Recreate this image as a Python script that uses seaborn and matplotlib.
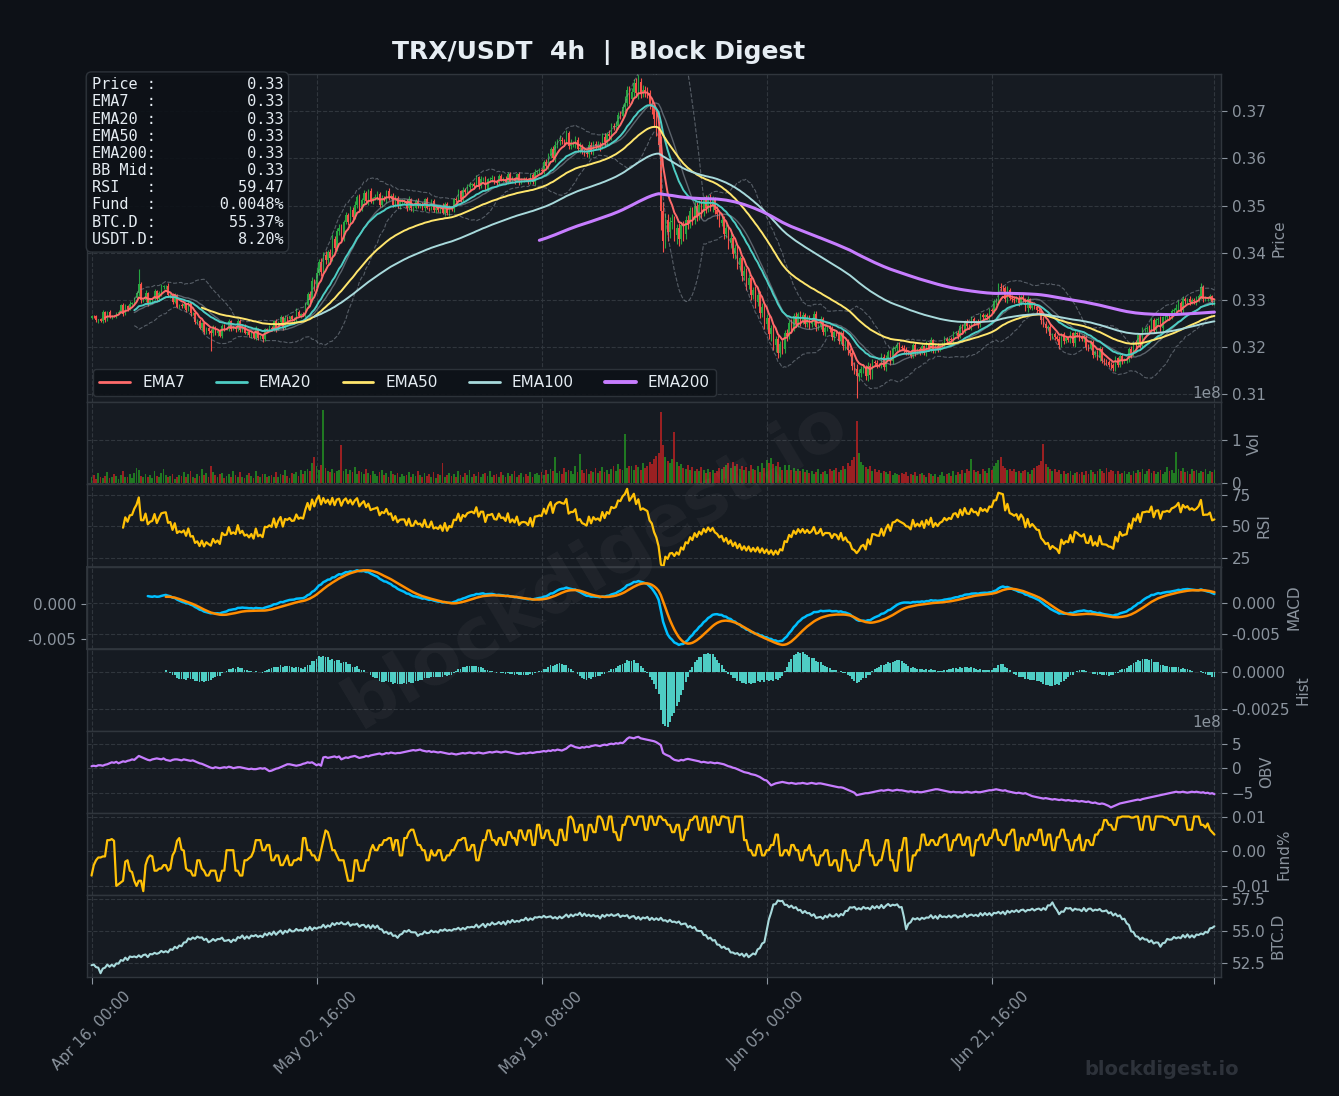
import numpy as np
import pandas as pd
import matplotlib
matplotlib.use("Agg")
import matplotlib.pyplot as plt
from matplotlib.lines import Line2D
from matplotlib.ticker import FormatStrFormatter
import seaborn as sns

# ---------------- data ----------------
OPEN0_E4 = 3262
# close prices in units of 1e-4 USDT, one per 4h bar
CLOSE_E4 = [
    3266,3265,3257,3259,3255,3274,3257,3274,3264,3266,
    3265,3273,3274,3290,3271,3287,3281,3292,3293,3305,
    3314,3334,3299,3299,3315,3294,3300,3302,3319,3301,
    3314,3327,3329,3330,3310,3312,3295,3310,3286,3290,
    3287,3291,3278,3293,3272,3273,3253,3256,3241,3251,
    3232,3240,3234,3229,3241,3230,3234,3224,3245,3239,
    3240,3255,3239,3242,3238,3256,3237,3242,3230,3232,
    3225,3231,3220,3239,3220,3223,3217,3238,3237,3241,
    3238,3256,3238,3253,3263,3242,3262,3260,3265,3259,
    3260,3275,3267,3270,3268,3290,3312,3300,3340,3326,
    3358,3380,3360,3396,3384,3402,3390,3430,3410,3446,
    3452,3432,3466,3480,3466,3490,3476,3502,3518,3494,
    3512,3527,3509,3530,3510,3516,3519,3524,3502,3516,
    3513,3531,3516,3521,3502,3517,3499,3508,3509,3509,
    3494,3514,3494,3495,3509,3500,3502,3494,3513,3495,
    3494,3509,3491,3494,3490,3498,3485,3504,3484,3496,
    3493,3513,3512,3531,3514,3533,3529,3540,3543,3545,
    3542,3560,3542,3557,3557,3536,3556,3556,3559,3549,
    3548,3563,3555,3556,3550,3568,3551,3558,3552,3566,
    3549,3555,3556,3555,3550,3565,3549,3572,3573,3575,
    3574,3592,3584,3605,3619,3600,3628,3636,3639,3637,
    3636,3653,3627,3632,3632,3640,3619,3622,3614,3612,
    3609,3629,3616,3631,3626,3629,3625,3646,3635,3651,
    3648,3668,3666,3669,3691,3690,3708,3718,3745,3725,
    3740,3759,3739,3762,3738,3744,3741,3738,3716,3708,
    3683,3665,3628,3489,3426,3470,3444,3466,3468,3438,
    3452,3430,3458,3440,3470,3462,3488,3470,3500,3478,
    3502,3486,3512,3494,3516,3498,3512,3490,3482,3464,
    3470,3440,3452,3420,3432,3398,3410,3374,3388,3350,
    3362,3332,3346,3310,3322,3296,3310,3272,3286,3250,
    3262,3228,3240,3204,3218,3188,3206,3196,3230,3224,
    3252,3240,3266,3250,3270,3254,3268,3250,3262,3248,
    3254,3270,3242,3245,3259,3232,3240,3240,3239,3221,
    3232,3229,3213,3230,3202,3210,3193,3188,3160,3154,
    3139,3145,3154,3157,3138,3161,3141,3168,3167,3163,
    3162,3180,3158,3177,3189,3170,3196,3198,3205,3201,
    3198,3195,3189,3188,3182,3204,3189,3196,3190,3202,
    3187,3207,3196,3215,3192,3203,3195,3204,3207,3217,
    3212,3218,3216,3229,3231,3224,3244,3234,3255,3245,
    3244,3259,3253,3254,3248,3268,3263,3268,3264,3278,
    3277,3297,3298,3327,3326,3325,3301,3322,3305,3303,
    3300,3304,3294,3307,3301,3282,3302,3284,3291,3285,
    3278,3277,3257,3250,3240,3242,3223,3228,3222,3218,
    3205,3227,3214,3219,3216,3229,3209,3230,3227,3221,
    3218,3222,3200,3199,3211,3184,3190,3178,3197,3171,
    3170,3169,3163,3162,3156,3176,3163,3182,3172,3174,
    3175,3197,3186,3211,3206,3225,3207,3238,3239,3241,
    3240,3258,3236,3257,3259,3240,3264,3264,3267,3265,
    3276,3279,3284,3294,3278,3302,3297,3302,3296,3300,
    3297,3301,3308,3327,3302,3303,3303,3308,3295,3297,
]
# upper / lower wick beyond the candle body, units of 1e-4
WICK_UP_E4 = [
    3,2,4,1,3,5,2,3,4,2,3,1,5,2,3,4,2,6,3,2,
    5,32,4,3,6,2,4,3,5,2,4,7,3,2,5,3,2,4,3,2,
    3,5,2,4,3,2,6,3,4,2,5,3,2,4,6,3,2,4,3,5,
    2,4,3,5,2,3,4,2,6,3,2,4,3,5,2,3,4,2,3,5,
    3,2,4,3,5,2,6,3,2,4,3,8,4,3,5,6,4,7,9,5,
    12,6,10,5,8,4,7,9,5,6,8,10,4,7,5,9,6,8,4,6,
    5,7,4,6,8,3,5,7,4,6,5,3,7,4,5,6,3,5,4,6,
    4,6,3,5,4,7,3,5,4,6,3,5,4,2,6,3,8,4,3,5,
    4,3,6,5,3,7,4,5,6,3,4,5,3,6,4,5,3,4,6,3,
    4,3,5,4,6,3,4,5,3,4,6,3,5,4,3,5,4,6,3,5,
    5,4,6,7,5,8,9,6,10,7,5,8,6,9,5,7,6,12,8,5,
    6,8,5,7,6,9,5,8,7,6,9,7,8,10,7,9,8,15,9,8,
    10,9,12,16,8,11,9,10,8,12,10,15,12,20,18,14,12,10,15,11,
    9,12,8,10,7,11,9,8,10,7,9,11,8,10,7,9,8,6,9,8,
    7,9,8,6,10,7,9,8,6,7,9,6,8,7,5,8,6,9,7,6,
    8,10,7,9,6,8,7,9,6,8,5,7,6,8,5,7,6,5,7,6,
    5,7,6,4,6,5,7,4,6,5,7,4,6,5,7,6,8,5,7,9,
    10,8,6,7,5,8,6,7,5,6,4,7,5,6,4,5,7,4,6,5,
    4,6,5,3,5,4,6,3,5,4,3,5,4,6,3,4,5,3,4,6,
    5,3,4,6,3,5,4,6,3,5,4,8,5,3,6,4,5,3,4,6,
    5,6,7,8,9,6,5,7,4,6,5,4,6,3,5,4,6,3,5,4,
    6,5,7,9,5,4,6,3,5,4,6,3,5,4,3,5,4,6,3,5,
    4,5,3,6,4,5,3,4,6,3,5,4,3,5,4,6,3,4,5,3,
    5,4,6,3,5,4,6,5,3,4,6,5,3,4,5,6,3,5,4,6,
    5,4,8,5,4,6,5,3,6,4,5,7,4,9,5,6,4,5,3,4,
]
WICK_DN_E4 = [
    2,4,3,5,2,3,4,2,3,5,2,4,3,2,5,3,4,2,3,4,
    4,6,5,3,4,6,3,5,2,4,3,5,4,6,3,5,4,2,4,3,
    5,3,4,2,6,3,4,5,3,6,4,5,7,38,5,4,6,3,5,4,
    3,5,4,2,6,3,5,4,3,5,4,6,3,4,5,3,6,4,5,3,
    4,3,5,2,4,6,3,5,4,3,5,6,4,5,3,4,6,5,4,7,
    8,6,9,5,7,10,6,8,5,7,9,6,8,5,7,6,8,5,7,6,
    5,6,4,7,5,6,4,8,5,6,4,7,5,3,6,4,5,7,4,5,
    6,4,5,7,3,5,6,4,5,3,6,4,5,7,4,5,3,6,4,5,
    5,7,4,3,6,4,5,3,6,4,5,3,7,4,5,3,6,4,5,3,
    4,5,3,6,4,5,3,4,6,3,5,4,6,3,5,4,3,5,4,6,
    5,6,4,7,5,6,8,5,7,6,9,5,8,6,7,10,6,8,5,7,
    7,9,6,8,5,7,9,6,8,7,6,8,5,9,7,6,8,10,7,9,
    8,10,9,12,10,8,11,9,12,14,16,18,20,40,25,15,18,12,16,14,
    20,15,12,14,10,12,9,11,8,10,9,12,8,10,7,9,11,8,10,9,
    8,10,9,12,10,8,11,9,12,10,8,11,9,10,8,12,9,10,8,11,
    12,10,14,11,15,12,9,11,8,10,7,9,6,8,7,9,6,8,7,9,
    6,8,7,5,7,6,8,5,7,6,8,5,7,6,8,7,9,6,8,10,
    47,10,8,9,7,10,8,9,6,8,5,7,6,8,5,7,6,5,7,6,
    5,7,6,4,6,5,7,4,6,5,4,6,5,7,4,5,6,4,5,7,
    6,4,5,7,4,6,5,7,4,6,5,8,6,4,7,5,6,4,5,7,
    6,5,7,6,8,7,6,8,5,7,6,5,7,4,6,5,7,4,6,5,
    7,6,8,7,9,6,8,5,7,6,8,5,7,6,5,7,6,8,5,7,
    6,7,5,8,6,7,5,6,8,5,7,6,5,8,6,7,5,6,8,5,
    7,6,8,5,7,6,8,7,5,6,8,7,5,6,7,8,5,7,6,8,
    6,5,9,6,5,7,6,5,7,5,6,8,5,6,7,5,6,4,5,6,
]
# volume in millions
VOLUME_M = [
    12,18,9,22,14,10,16,25,11,13, 20,15,8,17,28,12,14,19,10,23,
    35,30,16,12,21,14,18,11,26,15, 13,22,31,17,12,15,20,9,14,18,
    16,24,12,19,27,13,10,21,15,33, 18,22,14,40,25,17,12,19,23,11,
    15,20,13,28,17,12,24,14,10,18, 22,16,11,27,15,13,19,21,12,16,
    18,14,25,12,20,17,30,15,11,22, 19,24,16,29,21,27,33,26,45,60,
    38,30,42,171,35,28,24,31,22,27, 29,89,26,33,20,29,24,37,21,28,
    25,19,32,23,18,27,21,15,24,30, 18,22,14,26,19,17,23,12,20,16,
    18,24,13,21,15,28,17,12,22,16, 19,14,25,11,20,18,47,13,17,22,
    15,21,12,26,18,14,23,17,29,13, 20,16,24,12,19,22,15,28,14,18,
    21,13,25,17,12,22,16,19,27,14, 18,23,12,20,16,25,13,19,22,17,
    24,18,29,21,33,26,60,22,28,19, 35,24,30,27,21,38,25,67,29,23,
    31,20,27,24,34,22,28,36,25,30, 21,33,39,27,44,31,29,115,35,40,
    38,30,42,36,30,45,34,40,48,44, 55,62,70,166,88,60,50,46,55,120,
    48,38,44,35,32,41,30,36,28,33, 26,37,29,23,32,25,30,22,27,34,
    31,37,41,46,35,48,39,44,33,40, 30,36,26,41,33,29,38,24,45,35,
    52,46,57,43,39,48,36,30,41,29, 42,30,35,28,33,26,31,24,29,22,
    27,20,25,31,19,24,28,21,33,26, 30,35,24,29,38,32,45,40,52,61,
    145,70,48,42,36,31,39,28,33,25, 30,22,27,24,20,26,18,23,21,17,
    22,19,25,16,21,18,24,15,20,23, 17,14,22,19,16,21,13,18,25,15,
    19,22,16,27,18,24,20,29,23,31, 26,55,30,24,28,21,33,26,22,35,
    30,38,45,52,61,40,35,29,33,27, 31,24,28,22,26,30,25,21,29,35,
    38,42,50,90,44,36,31,27,33,24, 29,21,26,19,23,28,17,22,25,20,
    24,18,27,21,30,25,19,26,33,28, 22,35,24,30,27,21,26,19,23,28,
    20,25,18,27,22,29,24,31,20,26, 33,23,28,21,25,30,19,24,36,27,
    29,22,73,31,26,35,24,28,20,33, 26,30,22,27,25,32,21,28,24,30,
]
# on-balance volume, units of 1e7
OBV_E7 = [
    4,5,4,6,6,5,7,8,10,12, 11,13,10,12,14,13,15,16,18,17,
    21,25,23,21,19,17,16,18,19,20, 19,18,20,17,16,15,17,18,18,17,
    16,18,17,16,15,16,14,12,10,9, 7,5,3,1,0,2,1,0,1,2,
    1,3,2,0,1,2,2,1,0,-1, -2,-1,-2,-2,-1,0,-1,0,-3,-6,
    -5,-3,-1,0,2,4,6,8,8,7, 6,5,6,7,9,10,12,11,12,9,
    6,8,5,22,23,21,22,23,24,22, 24,18,20,22,21,23,24,25,23,21,
    22,23,25,24,26,27,28,29,30,28, 29,31,30,32,31,30,31,31,32,33,
    34,35,36,37,36,37,38,36,35,34, 35,33,34,33,32,33,32,31,30,29,
    30,29,28,29,30,31,30,31,32,31, 30,31,32,31,30,31,32,33,32,33,
    34,33,32,33,34,33,32,31,30,29, 29,30,31,30,31,32,31,32,33,33,
    34,35,34,36,35,37,36,38,37,36, 38,40,44,47,45,43,42,41,43,42,
    44,43,45,46,47,46,45,47,48,47, 49,50,49,51,50,52,51,55,60,63,
    62,61,63,64,61,60,59,58,57,56, 55,53,50,47,31,28,26,24,20,17,
    16,15,17,16,18,19,18,17,16,15, 14,12,13,12,11,12,11,10,11,10,
    9,8,6,4,3,1,0,-2,-4,-6, -8,-9,-10,-12,-13,-14,-16,-18,-21,-24,
    -25,-30,-35,-33,-31,-30,-29,-28,-29,-30, -31,-30,-31,-32,-31,-31,-30,-31,-32,-31,
    -30,-31,-32,-31,-31,-32,-33,-34,-35,-36, -37,-38,-39,-39,-40,-42,-44,-46,-48,-50,
    -55,-54,-53,-52,-51,-51,-50,-49,-48,-47, -46,-45,-46,-45,-44,-45,-46,-45,-44,-45,
    -45,-46,-47,-48,-47,-48,-49,-48,-49,-49, -48,-47,-46,-45,-44,-43,-43,-44,-45,-46,
    -47,-48,-49,-48,-49,-49,-49,-50,-49,-48, -49,-50,-49,-48,-49,-49,-48,-47,-46,-45,
    -45,-44,-43,-44,-45,-46,-45,-47,-48,-49, -50,-51,-50,-51,-52,-51,-53,-55,-57,-58,
    -59,-60,-61,-62,-61,-62,-63,-64,-63,-64, -65,-64,-65,-66,-65,-66,-67,-66,-67,-68,
    -67,-68,-69,-68,-70,-71,-70,-72,-73,-72, -73,-75,-77,-80,-78,-76,-74,-72,-71,-70,
    -69,-68,-67,-66,-65,-64,-65,-63,-62,-61, -60,-59,-58,-57,-56,-55,-54,-53,-52,-51,
    -50,-49,-48,-49,-49,-48,-49,-50,-49,-48, -49,-48,-49,-50,-49,-51,-50,-52,-51,-53,
]
# funding rate, units of 1e-4 (percent)
FUNDING_E4 = [
    -70,-40,-26,-18,-18,-15,-15,32,32,35, 30,-100,-95,-90,-85,-30,-26,-56,-60,-85,
    -100,-85,-85,-115,-40,-20,-12,-15,-56,-56, -50,-50,-40,-40,-56,-50,-12,0,30,38,
    5,2,-50,-56,-56,-70,-70,-26,-26,-50, -56,-70,-70,-56,-56,-56,-85,-85,-56,-56,
    3,3,3,3,-56,-56,-70,-70,-26,-26, -20,-15,0,32,32,32,3,3,18,18,
    -26,-26,-12,-12,-40,-40,-26,-12,-40,-40, -26,-26,-20,-26,38,38,3,3,-12,-12,
    -26,-26,3,32,60,55,32,3,3,-12, -26,-26,-26,-56,-85,-85,-85,-26,-26,-56,
    -56,-56,-26,-26,3,18,3,3,18,18, 32,32,38,38,3,32,32,-12,-12,38,
    38,55,62,62,40,18,18,3,3,-26, -26,3,-12,-12,3,3,-26,-26,-12,-12,
    3,3,18,32,32,38,38,3,3,18, 18,-26,-26,3,32,32,60,60,32,32,
    18,38,38,18,18,55,55,38,38,18, 60,60,38,32,60,60,18,18,76,76,
    38,38,60,60,32,32,18,18,62,62, 32,32,97,100,90,55,55,76,76,32,
    32,76,76,55,55,100,100,90,62,62, 100,100,55,55,32,32,76,76,100,100,
    97,76,76,100,100,100,62,62,100,100, 76,76,100,100,90,90,76,76,55,55,
    76,76,32,32,62,62,90,90,100,100, 62,62,97,97,55,55,100,100,76,76,
    100,100,97,97,55,55,100,100,100,100, 32,32,3,3,-12,-12,18,18,-12,-12,
    3,3,18,18,48,48,-12,-12,3,3, -12,18,18,3,3,-26,-26,3,3,18,
    -12,-12,-40,-40,-12,-12,3,3,-40,-40, -26,-26,-56,-56,3,3,-26,-26,-56,-56,
    -40,-40,3,3,32,32,-12,-12,-40,-40, -26,-26,3,32,32,-26,-26,-56,-56,3,
    3,38,38,-56,-56,-12,-12,3,3,48, 48,18,18,32,32,18,18,40,40,48,
    48,3,3,32,32,48,48,18,18,40, 40,-12,-12,32,32,48,48,18,18,38,
    38,62,62,32,32,18,18,48,48,62, 62,3,3,38,38,18,18,48,48,32,
    32,62,62,18,18,48,48,3,3,40, 40,62,62,32,32,3,3,32,32,48,
    3,3,32,32,18,18,48,48,62,62, 90,90,76,76,62,62,97,97,100,100,
    100,100,97,97,100,100,62,62,100,100, 100,62,62,100,100,100,100,97,97,90,
    90,76,76,100,100,100,100,62,62,62, 100,100,100,76,76,68,80,62,55,48,
]
# BTC dominance, units of 0.01 %
BTCD_E2 = [
    5235,5240,5220,5216,5173,5209,5216,5240,5223,5239, 5225,5249,5247,5275,5269,5294,5275,5303,5298,5303,
    5296,5312,5297,5314,5318,5298,5322,5319,5331,5323, 5330,5346,5335,5344,5334,5359,5354,5378,5366,5388,
    5382,5411,5413,5443,5434,5450,5439,5457,5448,5451, 5430,5440,5413,5422,5438,5424,5438,5437,5449,5423,
    5426,5432,5413,5434,5424,5453,5446,5466,5439,5459, 5442,5465,5459,5469,5454,5464,5453,5481,5466,5487,
    5470,5496,5471,5490,5504,5478,5502,5489,5513,5497, 5498,5516,5503,5510,5500,5525,5506,5532,5507,5527,
    5518,5529,5527,5549,5526,5544,5533,5561,5546,5563, 5554,5568,5553,5552,5568,5540,5552,5549,5557,5533,
    5546,5548,5527,5546,5520,5545,5524,5542,5515,5513, 5486,5495,5477,5487,5462,5466,5447,5471,5478,5501,
    5494,5508,5491,5490,5490,5462,5476,5475,5497,5483, 5486,5504,5491,5498,5488,5509,5502,5514,5501,5509,
    5502,5515,5513,5525,5509,5524,5513,5531,5528,5533, 5528,5550,5527,5542,5556,5530,5556,5545,5567,5551,
    5556,5570,5553,5572,5550,5579,5564,5586,5569,5579, 5572,5587,5583,5603,5582,5598,5587,5607,5604,5611,
    5604,5618,5605,5610,5614,5598,5608,5595,5613,5599, 5612,5628,5607,5628,5614,5629,5624,5642,5615,5635,
    5616,5627,5613,5625,5612,5618,5597,5625,5610,5627, 5618,5630,5617,5622,5632,5608,5620,5615,5623,5599,
    5612,5616,5593,5610,5588,5605,5598,5610,5585,5603, 5586,5599,5585,5603,5580,5584,5571,5587,5570,5573,
    5564,5574,5551,5556,5558,5528,5540,5523,5531,5503, 5500,5500,5469,5468,5440,5449,5426,5430,5395,5393,
    5370,5379,5361,5363,5334,5334,5323,5329,5312,5325, 5302,5324,5297,5312,5326,5318,5358,5367,5403,5413,
    5500,5590,5643,5706,5708,5737,5731,5734,5703,5703, 5684,5697,5677,5685,5660,5664,5639,5655,5638,5639,
    5618,5630,5601,5606,5610,5594,5618,5605,5629,5613, 5614,5632,5611,5632,5622,5655,5656,5684,5681,5687,
    5666,5677,5667,5687,5674,5680,5667,5693,5676,5693, 5676,5702,5677,5696,5710,5693,5704,5699,5707,5683,
    5686,5610,5513,5556,5568,5599,5590,5600,5587,5603, 5594,5605,5603,5623,5598,5616,5595,5624,5608,5613,
    5606,5620,5605,5620,5622,5604,5616,5612,5633,5609, 5622,5628,5617,5626,5614,5639,5620,5640,5623,5639,
    5620,5641,5637,5649,5634,5650,5629,5657,5642,5657, 5648,5662,5647,5662,5666,5650,5664,5661,5673,5659,
    5670,5674,5661,5678,5664,5699,5698,5722,5687,5663, 5630,5651,5649,5679,5674,5678,5657,5673,5666,5667,
    5654,5678,5653,5672,5674,5656,5666,5661,5671,5653, 5654,5660,5637,5646,5620,5635,5614,5622,5591,5595,
    5560,5547,5497,5493,5460,5456,5433,5449,5434,5435, 5414,5428,5403,5412,5410,5378,5406,5409,5439,5433,
    5434,5454,5443,5452,5444,5469,5450,5474,5449,5467, 5450,5473,5469,5481,5474,5494,5487,5521,5524,5537,
]
TICK_BARS = [0, 100, 200, 300, 400, 499]
TICK_LABELS = ["Apr 16, 00:00", "May 02, 16:00", "May 19, 08:00", "Jun 05, 00:00", "Jun 21, 16:00", ""]
INFO_LABELS = ["Price :", "EMA7  :", "EMA20 :", "EMA50 :", "EMA200:", "BB Mid:", "RSI   :", "Fund  :", "BTC.D :", "USDT.D:"]
INFO_VALUES = ["0.33", "0.33", "0.33", "0.33", "0.33", "0.33", "59.47", "0.0048%", "55.37%", "8.20%"]
EMA_SPANS = [7, 20, 50, 100, 200]

# ---------------- style ----------------
BG = "#0d1117"
PANEL = "#161b22"
GRID = "#30363d"
TXT = "#8b949e"
WHITE = "#e6edf3"
UP = "#26a641"
DOWN = "#f85149"
VUP = "#228b22"
VDOWN = "#b22222"
EMA_COLORS = ["#ff6b6b", "#4ecdc4", "#ffe66d", "#a8dadc", "#c77dff"]
EMA_WIDTHS = [1.4, 1.4, 1.4, 1.4, 2.2]

sns.set_theme(style="dark", rc={"axes.facecolor": PANEL, "figure.facecolor": BG,
                                "axes.edgecolor": GRID, "grid.color": GRID})
plt.rcParams["font.family"] = ["DejaVu Sans"]
plt.rcParams["axes.unicode_minus"] = True

n = min(len(CLOSE_E4), len(WICK_UP_E4), len(WICK_DN_E4), len(VOLUME_M),
        len(OBV_E7), len(FUNDING_E4), len(BTCD_E2))
x = np.arange(n)
close = np.array(CLOSE_E4[:n]) / 1e4
open_ = np.concatenate([[OPEN0_E4 / 1e4], close[:-1]])
high = np.maximum(open_, close) + np.array(WICK_UP_E4[:n]) / 1e4
low = np.minimum(open_, close) - np.array(WICK_DN_E4[:n]) / 1e4
vol = np.array(VOLUME_M[:n]) * 1e6
obv = np.array(OBV_E7[:n]) * 1e7
fund = np.array(FUNDING_E4[:n]) / 1e4
btcd = np.array(BTCD_E2[:n]) / 100.0

c = pd.Series(close)
emas = [c.ewm(span=s, adjust=False, min_periods=s).mean() for s in EMA_SPANS]
bb_mid = c.rolling(20).mean()
bb_std = c.rolling(20).std()
bb_up = bb_mid + 2 * bb_std
bb_dn = bb_mid - 2 * bb_std
delta = c.diff()
gain = delta.clip(lower=0).ewm(alpha=1 / 14, adjust=False, min_periods=14).mean()
loss = (-delta.clip(upper=0)).ewm(alpha=1 / 14, adjust=False, min_periods=14).mean()
rsi = 100 - 100 / (1 + gain / loss)
macd = (c.ewm(span=12, adjust=False).mean() - c.ewm(span=26, adjust=False).mean())
macd[:25] = np.nan
signal = macd.ewm(span=9, adjust=False, min_periods=9).mean()
hist = macd - signal

# ---------------- figure ----------------
fig = plt.figure(figsize=(13.39, 10.96), dpi=100, facecolor=BG)
gs = fig.add_gridspec(8, 1, height_ratios=[4, 1, 1, 1, 1, 1, 1, 1], hspace=0,
                      left=0.065, right=0.912, top=0.9325, bottom=0.1086)
axes = []
for i in range(8):
    axes.append(fig.add_subplot(gs[i], sharex=axes[0] if axes else None))
ax_p, ax_v, ax_r, ax_m, ax_h, ax_o, ax_f, ax_b = axes


def style(ax, ylabel):
    ax.set_facecolor(PANEL)
    for s in ax.spines.values():
        s.set_color(GRID)
        s.set_linewidth(1.0)
    ax.grid(True, color=GRID, linestyle="--", linewidth=0.8)
    ax.set_axisbelow(True)
    ax.yaxis.tick_right()
    ax.yaxis.set_label_position("right")
    ax.set_ylabel(ylabel, color=TXT, fontsize=11)
    ax.tick_params(axis="y", colors=TXT, labelsize=11, length=4, width=0.8,
                   right=True, left=False, labelright=True, labelleft=False)
    ax.tick_params(axis="x", colors=TXT, labelsize=11, bottom=False, labelbottom=False)
    ax.yaxis.get_offset_text().set_color(TXT)
    ax.yaxis.get_offset_text().set_fontsize(11)


def line(ax, y, color, lw, **kw):
    sns.lineplot(x=x, y=np.asarray(y, dtype=float), ax=ax, color=color, linewidth=lw,
                 legend=False, estimator=None, sort=False, **kw)


for ax, lab in zip(axes, ["Price", "Vol", "RSI", "MACD", "Hist", "OBV", "Fund%", "BTC.D"]):
    style(ax, lab)

# price panel
cols = np.where(close >= open_, UP, DOWN)
ax_p.vlines(x, low, high, colors=cols, linewidth=0.8, zorder=2)
body_bot = np.minimum(open_, close)
body_h = np.maximum(np.abs(close - open_), 0.00003)
ax_p.bar(x, body_h, bottom=body_bot, width=0.65, color=cols, linewidth=0, zorder=2)
line(ax_p, bb_up, TXT, 0.8, alpha=0.55, linestyle="--", zorder=3)
line(ax_p, bb_dn, TXT, 0.8, alpha=0.55, linestyle="--", zorder=3)
line(ax_p, bb_mid, TXT, 1.0, alpha=0.6, zorder=3)
handles = []
for s, e, col, lw in zip(EMA_SPANS, emas, EMA_COLORS, EMA_WIDTHS):
    line(ax_p, e, col, lw, zorder=4)
    handles.append(Line2D([0], [0], color=col, lw=lw + 0.6, label=f"EMA{s}"))
ax_p.set_ylim(0.3083, 0.3779)
ax_p.set_yticks([0.31, 0.32, 0.33, 0.34, 0.35, 0.36, 0.37])
ax_p.yaxis.set_major_formatter(FormatStrFormatter("%.2f"))
leg = ax_p.legend(handles=handles, loc="lower left", ncol=5, fontsize=11,
                  facecolor=BG, edgecolor=GRID, framealpha=0.9, labelcolor=WHITE,
                  borderaxespad=0.4, columnspacing=2.05)
info = "\n".join(f"{l}{v:>14}" for l, v in zip(INFO_LABELS, INFO_VALUES))
ax_p.text(0.004, 0.99, info, transform=ax_p.transAxes, va="top", ha="left",
          family="DejaVu Sans Mono", fontsize=11, color=WHITE, linespacing=1.18, zorder=10,
          bbox=dict(boxstyle="round,pad=0.35", facecolor=BG, edgecolor=GRID, alpha=0.92))

# volume
vcols = np.where(close >= open_, VUP, VDOWN)
ax_v.bar(x, vol, width=0.8, color=vcols, alpha=0.85, linewidth=0)
ax_v.set_ylim(-0.045e8, 1.89e8)
ax_v.set_yticks([0, 1e8])
ax_v.yaxis.set_offset_position("right")

# RSI
line(ax_r, rsi, "#ffc107", 1.6)
ax_r.set_ylim(18.5, 83)
ax_r.set_yticks([25, 50, 75])

# MACD (line on right scale, signal on a twin left scale)
line(ax_m, macd, "#00bfff", 1.8)
ax_sig = ax_m.twinx()
line(ax_sig, signal, "#ff8c00", 1.8)
ax_m.yaxis.tick_right()
ax_m.yaxis.set_label_position("right")
ax_m.tick_params(axis="y", right=True, left=False, labelright=True, labelleft=False)
ax_sig.yaxis.tick_left()
ax_sig.tick_params(axis="y", colors=TXT, labelsize=11, length=4, width=0.8,
                   left=True, right=False, labelleft=True, labelright=False)
ax_sig.set_ylabel("")
for s in ax_sig.spines.values():
    s.set_color(GRID)
ax_m.set_yticks([-0.005, 0.0])
ax_sig.set_yticks([-0.005, 0.0])
ax_m.yaxis.set_major_formatter(FormatStrFormatter("%.3f"))
ax_sig.yaxis.set_major_formatter(FormatStrFormatter("%.3f"))

# histogram
ax_h.bar(x, hist.fillna(0).values, width=0.8, color="#4ecdc4", linewidth=0)
ax_h.set_yticks([-0.0025, 0.0])
ax_h.yaxis.set_major_formatter(FormatStrFormatter("%.4f"))

# OBV
line(ax_o, obv, "#c77dff", 1.6)
ax_o.set_ylim(-9.1e8, 7.65e8)
ax_o.set_yticks([-5e8, 0, 5e8])
ax_o.yaxis.set_offset_position("right")

# funding
line(ax_f, fund, "#ffc107", 1.6)
ax_f.set_yticks([-0.01, 0.0, 0.01])
ax_f.yaxis.set_major_formatter(FormatStrFormatter("%.2f"))

# BTC dominance
line(ax_b, btcd, "#a8dadc", 1.5)
ax_b.set_ylim(51.44, 57.8)
ax_b.set_yticks([52.5, 55.0, 57.5])
ax_b.yaxis.set_major_formatter(FormatStrFormatter("%.1f"))

for ax in axes:
    ax.set_xlabel("")
ax_b.set_xlim(-2, n + 2)
ax_b.set_xticks(TICK_BARS)
ax_b.set_xticklabels(TICK_LABELS, rotation=45)
ax_b.tick_params(axis="x", bottom=True, labelbottom=True, colors=TXT, labelsize=11,
                 length=5, width=0.8)

fig.text(0.447, 0.952, "TRX/USDT  4h  |  Block Digest", fontsize=18, fontweight="bold",
         color=WHITE, ha="center", va="center")
fig.text(0.445, 0.485, "blockdigest.io", fontsize=52, fontweight="bold", color="white",
         alpha=0.045, rotation=31, ha="center", va="center")
fig.text(0.925, 0.024, "blockdigest.io", fontsize=14, fontweight="bold", color="#2d323a",
         ha="right", va="center")

fig.savefig("out.png", dpi=100, facecolor=BG)
